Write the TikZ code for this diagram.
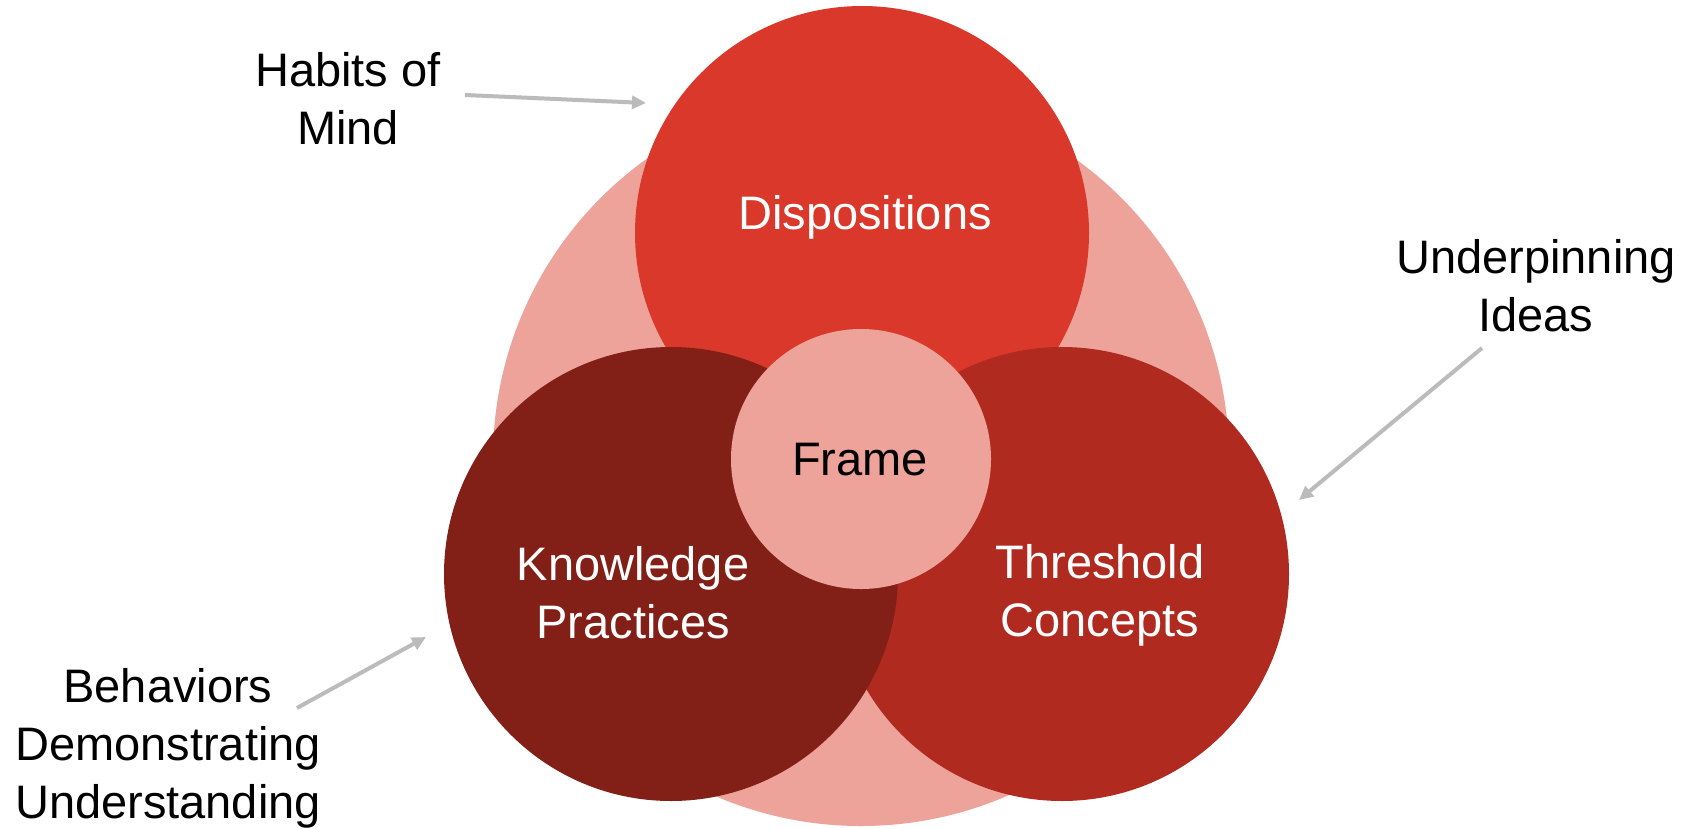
\documentclass[tikz,border=0pt]{standalone}
\usepackage{fontspec}
\setmainfont{Liberation Sans}
\usetikzlibrary{arrows.meta}
\definecolor{cLight}{HTML}{EDA29A}
\definecolor{cDisp}{HTML}{D9382A}
\definecolor{cKnow}{HTML}{822018}
\definecolor{cThr}{HTML}{B02A20}
\definecolor{cArrow}{HTML}{BBBBBB}
\tikzset{
  disc/.style={circle, inner sep=0pt, draw=none},
  lbl/.style={align=center, font=\fontsize{47}{58}\selectfont, text=black},
  inlbl/.style={align=center, font=\fontsize{47}{58}\selectfont, text=white},
  pointer/.style={draw=cArrow, line width=4pt, -{Triangle[length=14pt,width=13pt]}},
}
\begin{document}
\begin{tikzpicture}[x=1pt,y=-1pt]
\useasboundingbox (0,0) rectangle (1696,828);
\fill[white] (0,0) rectangle (1696,828);
\node[disc, fill=cLight, minimum size=736pt] (outer) at (861,458) {};
\node[disc, fill=cDisp, minimum size=454pt] (disp) at (862,233) {};
\node[disc, fill=cThr, minimum size=454pt] (thr) at (1062,574) {};
\node[disc, fill=cKnow, minimum size=454pt] (know) at (671,574) {};
\node[disc, fill=cLight, minimum size=260pt] (frame) at (861,459) {};
\node[inlbl] (tdisp) at (865,217) {Dispositions};
\node[inlbl] (tknow) at (633,593) {Knowledge\\Practices};
\node[inlbl] (tthr) at (1100,595) {Threshold\\Concepts};
\node[lbl] (tframe) at (860,460) {Frame};
\node[lbl] (habits) at (348,99) {Habits of\\Mind};
\node[lbl] (under) at (1536,286) {Underpinning\\Ideas};
\node[lbl] (behav) at (168,748) {Behaviors\\Demonstrating\\Understanding};
\coordinate (hA) at (465,95);
\coordinate (hB) at (646,103);
\coordinate (uA) at (1482,348);
\coordinate (uB) at (1299,500);
\coordinate (bA) at (297,708);
\coordinate (bB) at (426,637);
\draw[pointer] (hA) -- (hB);
\draw[pointer] (uA) -- (uB);
\draw[pointer] (bA) -- (bB);
\end{tikzpicture}
\end{document}
